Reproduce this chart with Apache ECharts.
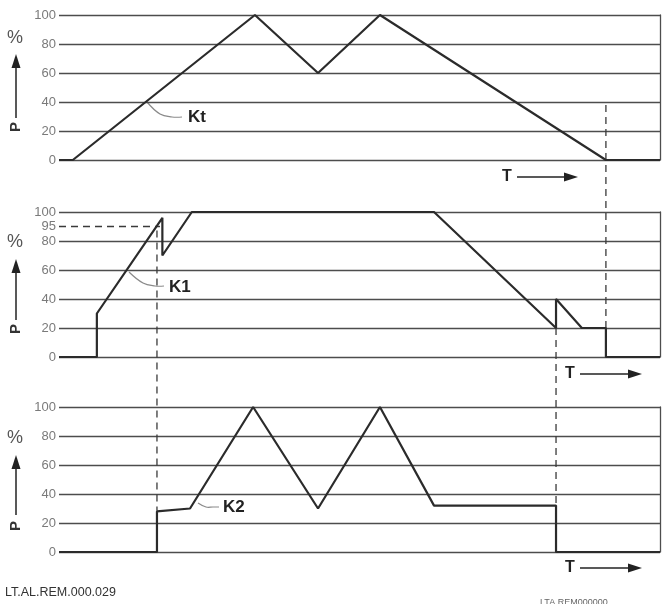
<!DOCTYPE html>
<html>
<head>
<meta charset="utf-8">
<script src="https://cdn.jsdelivr.net/npm/echarts@6/dist/echarts.min.js"></script>
<style>
  html, body { margin: 0; padding: 0; background: #fff; }
  #chart-panel { width: 665px; height: 604px; }
</style>
</head>
<body>
<div id="chart-panel"></div>
<script>
/* T axis runs 0..100 across each panel, P in percent. */
const yTicks = [0, 20, 40, 60, 80, 100]

/* Kt: set point curve (top panel). */
const ktT = [0, 2.3, 32.6, 43.1, 53.4, 91, 100]
const ktP = [0, 0, 100, 60, 100, 0, 0]

/* K1: first compressor (middle panel). */
const k1T = [0, 6.3, 6.3, 17.2, 17.2, 22.1, 62.4, 82.7, 82.7, 87, 91, 91, 100]
const k1P = [0, 0, 30, 96, 70, 100, 100, 20, 40, 20, 20, 0, 0]

/* K2: second compressor (bottom panel). */
const k2T = [0, 16.3, 16.3, 21.8, 32.3, 43.1, 53.4, 62.4, 82.7, 82.7, 100]
const k2P = [0, 0, 28, 30, 100, 30, 100, 32, 32, 0, 0]

/* dashed helper lines, values outside 0..100 run into the next panel */
const stopT = [91, 91]
const stopP = [20, 174]
/* the "95" limit is drawn at about 90 on the original sketch */
const limitT = [0, 16.8, 16.3, 16.3]
const limitP = [90, 90, 90, -106]
const limitLabel = '95'
const k2offT = [82.7, 82.7]
const k2offP = [20, -103]

const labels = ['Kt', 'K1', 'K2']

! function(){
    const ink = '#2b2b2b'
    const gridInk = '#4d4d4d'
    const labelGray = '#7a7a7a'
    const panelTops = [15, 212, 407]

    function pairs(ts, ps){
        return ts.map((t, i) => [t, ps[i]])
    }

    function curve(name, idx, ts, ps){
        return {
            name: name,
            type: 'line',
            xAxisIndex: idx,
            yAxisIndex: idx * 2,
            data: pairs(ts, ps),
            symbol: 'none',
            z: 5,
            lineStyle: { color: ink, width: 2.2 }
        }
    }

    function dashed(idx, ts, ps, extra){
        return Object.assign({
            type: 'line',
            xAxisIndex: idx,
            yAxisIndex: idx * 2,
            data: pairs(ts, ps),
            symbol: 'none',
            clip: false,
            silent: true,
            z: 3,
            lineStyle: { color: '#3a3a3a', width: 1.3, type: [7, 5] }
        }, extra || {})
    }

    /* arrow made of a line plus a triangle head */
    function arrow(x1, y1, x2, y2){
        let dx = x2 - x1, dy = y2 - y1
        let len = Math.sqrt(dx * dx + dy * dy)
        let ux = dx / len, uy = dy / len
        let hl = 14, hw = 4.5
        let bx = x2 - ux * hl, by = y2 - uy * hl
        return [
            { type: 'line', shape: { x1: x1, y1: y1, x2: bx, y2: by },
              style: { stroke: '#222', lineWidth: 1.5 } },
            { type: 'polygon',
              shape: { points: [[x2, y2], [bx - uy * hw, by + ux * hw], [bx + uy * hw, by - ux * hw]] },
              style: { fill: '#222' } }
        ]
    }

    let grids = [], xAxes = [], yAxes = []
    panelTops.forEach((top, i) => {
        grids.push({ left: 59, right: 5, top: top, height: 145 })
        xAxes.push({ gridIndex: i, type: 'value', min: 0, max: 100, show: false })
        yAxes.push({
            gridIndex: i, type: 'value', min: yTicks[0], max: yTicks[yTicks.length - 1], interval: 20,
            axisLine: { show: false }, axisTick: { show: false },
            axisLabel: { color: labelGray, fontSize: 13, fontFamily: 'Liberation Sans', margin: 3 },
            splitLine: { lineStyle: { color: gridInk, width: 1.3 } }
        })
        yAxes.push({
            gridIndex: i, type: 'value', min: 0, max: 100, position: 'right',
            axisLine: { show: true, lineStyle: { color: gridInk, width: 1.3 } },
            axisTick: { show: false }, axisLabel: { show: false }, splitLine: { show: false }
        })
    })

    let g = []
    /* P -> % markers on the left */
    let side = [
        { pct: 38, tip: 54, end: 118, p: 127 },
        { pct: 242, tip: 259, end: 320, p: 329 },
        { pct: 438, tip: 455, end: 515, p: 526 }
    ]
    side.forEach((s) => {
        g.push({ type: 'text', x: 15, y: s.pct,
                 style: { text: '%', fill: '#555', font: '18px Liberation Sans', align: 'center', verticalAlign: 'middle' } })
        g = g.concat(arrow(16, s.end, 16, s.tip))
        g.push({ type: 'text', x: 16, y: s.p, rotation: Math.PI / 2,
                 style: { text: 'P', fill: '#333', font: 'bold 15px Liberation Sans', align: 'center', verticalAlign: 'middle' } })
    })

    /* T -> under each panel */
    let tMarks = [[507, 177, 517, 578], [570, 374, 580, 642], [570, 568, 580, 642]]
    tMarks.forEach((m) => {
        g.push({ type: 'text', x: m[0], y: m[1],
                 style: { text: 'T', fill: '#222', font: 'bold 16px Liberation Sans', align: 'center', verticalAlign: 'middle' } })
        g = g.concat(arrow(m[2], m[1], m[3], m[1]))
    })

    /* curve names with thin leader lines */
    let tags = [
        { t: labels[0], pts: [[147, 102], [160, 114], [172, 117], [182, 117]], x: 188, y: 117 },
        { t: labels[1], pts: [[129, 272], [143, 283], [155, 286], [164, 286]], x: 169, y: 287 },
        { t: labels[2], pts: [[198, 503], [206, 507], [213, 507], [219, 507]], x: 223, y: 507 }
    ]
    tags.forEach((k) => {
        g.push({ type: 'polyline', shape: { points: k.pts, smooth: 0.4 },
                 style: { stroke: '#8a8a8a', lineWidth: 1.2, fill: null } })
        g.push({ type: 'text', x: k.x, y: k.y,
                 style: { text: k.t, fill: '#222', font: 'bold 17px Liberation Sans', verticalAlign: 'middle' } })
    })

    g.push({ type: 'text', left: 5, top: 586,
             style: { text: 'LT.AL.REM.000.029', fill: '#333', font: '12.5px Liberation Sans' } })
    g.push({ type: 'text', left: 540, top: 598,
             style: { text: 'LTA.REM000000', fill: '#666', font: '9px Liberation Sans' } })

    let myChart = echarts.init(document.getElementById('chart-panel'))
    myChart.setOption({
        animation: false,
        backgroundColor: '#fff',
        grid: grids,
        xAxis: xAxes,
        yAxis: yAxes,
        graphic: g,
        series: [
            curve(labels[0], 0, ktT, ktP),
            curve(labels[1], 1, k1T, k1P),
            curve(labels[2], 2, k2T, k2P),
            dashed(1, stopT, stopP),
            dashed(1, limitT, limitP, {
                markLine: {
                    silent: true, symbol: 'none',
                    lineStyle: { color: 'rgba(0,0,0,0)', width: 0, type: 'solid' },
                    label: { show: true, position: 'start', formatter: limitLabel, color: labelGray,
                             fontSize: 13, fontFamily: 'Liberation Sans', distance: 3 },
                    data: [{ yAxis: limitP[0] }]
                }
            }),
            dashed(1, k2offT, k2offP)
        ]
    })
}()
</script>
</body>
</html>
